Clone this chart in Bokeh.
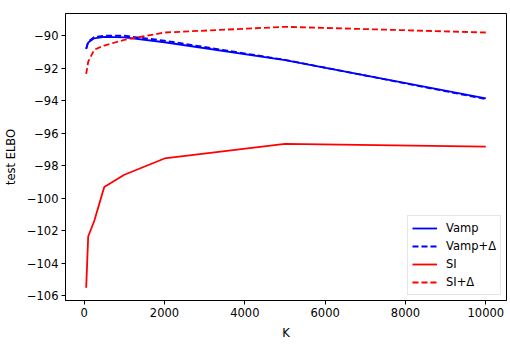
from bokeh.plotting import figure
from bokeh.models import Range1d, FixedTicker, Legend, LegendItem
from bokeh.embed import file_html
from bokeh.resources import INLINE

K = [50, 100, 250, 500, 1000, 2000, 5000, 10000]
vamp = [-90.82, -90.41, -90.16, -90.07, -90.10, -90.40, -91.50, -93.85]
vamp_delta = [-90.80, -90.35, -90.08, -90.00, -90.00, -90.30, -91.48, -93.90]
si = [-105.50, -102.35, -101.40, -99.30, -98.55, -97.55, -96.65, -96.82]
si_delta = [-92.35, -91.60, -90.86, -90.60, -90.25, -89.80, -89.45, -89.80]

x_ticks = [0, 2000, 4000, 6000, 8000, 10000]
y_ticks = [-106, -104, -102, -100, -98, -96, -94, -92, -90]

FONT = "DejaVu Sans"
FS = "11.5px"

p = figure(frame_width=441, frame_height=287,
           min_border_left=62, min_border_right=7, min_border_top=13, min_border_bottom=47,
           x_range=Range1d(-465, 10515), y_range=Range1d(-106.29, -88.63),
           output_backend="svg", toolbar_location=None)

p.xgrid.visible = False
p.ygrid.visible = False
p.outline_line_color = "black"
p.outline_line_width = 1
p.background_fill_color = "white"
p.border_fill_color = "white"

r1 = p.line(K, vamp, line_color="#0000ff", line_width=1.8)
r2 = p.line(K, vamp_delta, line_color="#0000ff", line_width=1.8, line_dash="6 3")
r3 = p.line(K, si, line_color="#ff0000", line_width=1.8)
r4 = p.line(K, si_delta, line_color="#ff0000", line_width=1.8, line_dash="6 3")

for ax, ticks in ((p.xaxis[0], x_ticks), (p.yaxis[0], y_ticks)):
    ax.ticker = FixedTicker(ticks=ticks)
    ax.minor_tick_line_color = None
    ax.major_tick_out = 4
    ax.major_tick_in = 0
    ax.major_tick_line_color = "black"
    ax.axis_line_color = "black"
    ax.major_label_text_font = FONT
    ax.major_label_text_font_size = FS
    ax.major_label_text_color = "black"
    ax.axis_label_text_font = FONT
    ax.axis_label_text_font_size = FS
    ax.axis_label_text_font_style = "normal"
    ax.axis_label_text_color = "black"
    ax.major_label_standoff = 3
    ax.axis_label_standoff = 6
    ax.major_label_overrides = {t: (str(t).replace("-", "\u2212")) for t in ticks}

p.xaxis[0].axis_label = "K"
p.yaxis[0].axis_label = "test ELBO"

legend = Legend(items=[
    LegendItem(label="Vamp", renderers=[r1]),
    LegendItem(label="Vamp+\u0394", renderers=[r2]),
    LegendItem(label="SI", renderers=[r3]),
    LegendItem(label="SI+\u0394", renderers=[r4]),
], location="bottom_right")
legend.margin = 5
legend.padding = 4
legend.spacing = 2
legend.glyph_width = 25
legend.glyph_height = 16
legend.label_height = 16
legend.label_standoff = 9
legend.label_text_font = FONT
legend.label_text_font_size = FS
legend.label_text_color = "black"
legend.border_line_color = "#cccccc"
legend.border_line_width = 1
legend.background_fill_color = "white"
legend.background_fill_alpha = 0.8
p.add_layout(legend, "center")

open("out.html", "w").write(file_html(p, INLINE))
